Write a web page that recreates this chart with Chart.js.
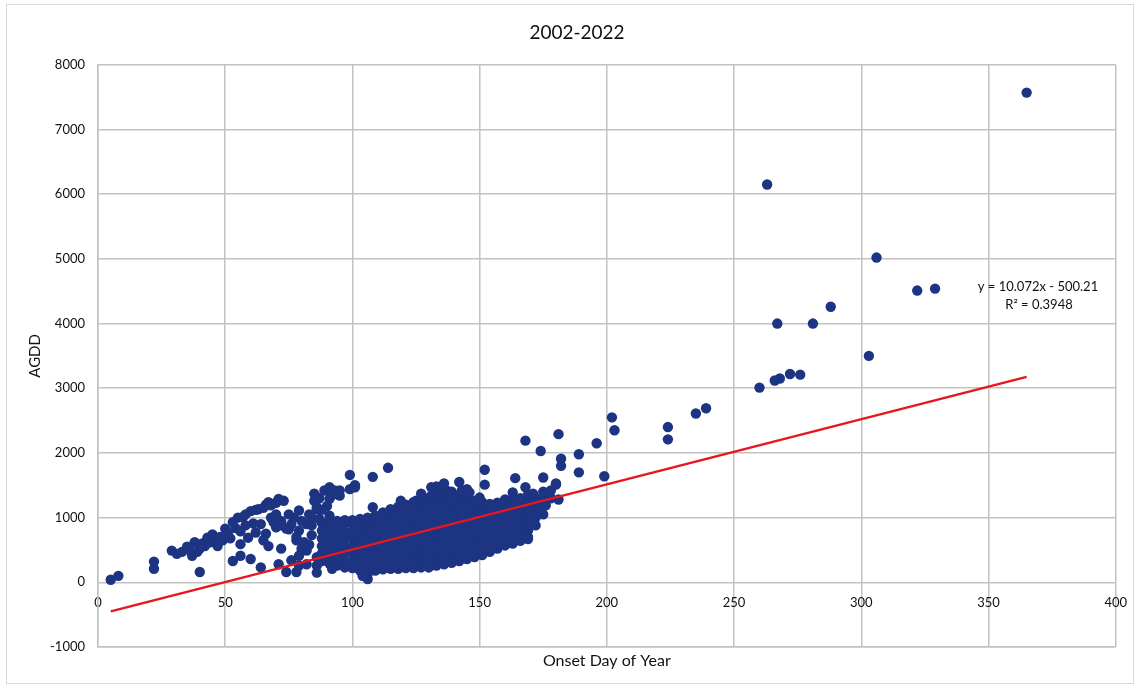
<!DOCTYPE html>
<html>
<head>
<meta charset="utf-8">
<title>2002-2022</title>
<script src="https://cdn.jsdelivr.net/npm/chart.js@4/dist/chart.umd.min.js"></script>
<style>
  html, body { margin: 0; padding: 0; background: #fff; }
  #wrap { width: 1140px; height: 687px; }
</style>
</head>
<body>
<div id="wrap"><canvas id="chart" width="1140" height="687"></canvas></div>
<script>
// Onset day of year vs. accumulated growing degree days (AGDD), 2002-2022

// Axis ticks
const xTicks = [0, 50, 100, 150, 200, 250, 300, 350, 400];
const yTicks = [-1000, 0, 1000, 2000, 3000, 4000, 5000, 6000, 7000, 8000];

// Linear fit reported on the chart
const fitSlope = 10.072;
const fitIntercept = -500.21;
const fitR2 = 0.3948;
const fitRange = [5, 365];

// Late-onset observations and the upper fringe of the main group
const lateOnset = [
  [365,7570],[263,6150],[306,5020],[322,4510],[329,4540],[288,4260],[267,4000],[281,4000],
  [303,3500],[272,3220],[276,3210],[266,3120],[268,3150],[260,3010],[235,2610],[239,2690],
  [224,2400],[224,2210],[202,2550],[203,2350],[196,2150],[199,1640],[181,2290],[168,2190],
  [174,2030],[189,1980],[182,1910],[182,1800],[189,1700],[164,1610],[175,1620],[168,1470],
  [180,1510],[181,1280],[176,1190],[169,670],[168,830],[169,800],[172,880],[152,1740],[152,1510],
  [180,1530],[171,1370],[163,1390],[150,1310]
];

// Early-onset observations (sparse band below day 100)
const earlyOnset = [
  [5,40],[8,100],[22,210],[22,320],[29,490],[31,440],[33,470],[35,550],[37,410],[38,620],
  [40,160],[40,520],[42,560],[43,690],[45,740],[46,620],[47,560],[49,650],[50,830],[52,680],
  [53,930],[54,840],[53,330],[55,1000],[56,790],[56,590],[56,410],[57,1010],[58,880],[60,1100],
  [60,360],[61,910],[62,770],[63,1130],[64,230],[64,900],[65,1150],[66,750],[67,1240],[68,1190],
  [69,930],[70,850],[71,1290],[72,950],[72,880],[72,520],[71,280],[74,830],[74,160],[75,820],
  [76,340],[77,1000],[78,650],[78,700],[78,160],[79,1110],[79,800],[79,410],[79,260],[81,620],
  [82,900],[82,490],[82,280],[84,730],[84,880],[85,1370],[85,1260],[86,1160],[86,1130],[86,390],
  [86,260],[86,150],[89,1420],[89,800],[91,1470],[91,1290],[91,1030],[92,210],[93,1420],[93,1370],
  [95,1420],[95,1340],[99,1440],[101,1470],[101,1500],[99,1660],[108,1630],[114,1770],[104,100],
  [108,1160],[119,1260],[125,1260],[127,1370],[131,1340],[131,1470],[133,1480],[136,1530],[137,1420],
  [139,1260],[142,1550],[143,1420],[145,1440],[146,1390],
  [36,500],[39,470],[41,600],[44,620],[48,700],[51,760],[58,1050],[59,690],[62,1120],[65,650],
  [66,1200],[67,560],[68,1000],[70,1050],[70,1230],[73,1260],[75,1050],[76,900],[80,950],[80,520],
  [83,1050],[83,580],[84,1000],[87,980],[88,1120],[90,1180],[87,1300],[92,1350]
];

// Main group: onset days 88-178
const mainGroup = [
  [88,330],[88,445],[88,560],[88,680],[88,800],[88,920],
  [91,290],[91,390],[91,500],[91,620],[91,730],[91,850],[91,950],
  [94,260],[94,370],[94,490],[94,600],[94,720],[94,830],[94,950],
  [97,230],[97,320],[97,440],[97,550],[97,670],[97,780],[97,900],[97,960],
  [100,220],[100,330],[100,450],[100,560],[100,680],[100,790],[100,910],[100,960],
  [103,180],[103,280],[103,400],[103,510],[103,630],[103,740],[103,860],[103,980],
  [106,50],[106,130],[106,240],[106,350],[106,470],[106,580],[106,700],[106,810],[106,930],[106,1000],
  [109,180],[109,290],[109,410],[109,520],[109,640],[109,750],[109,870],[109,980],[109,1030],
  [112,200],[112,310],[112,430],[112,540],[112,660],[112,770],[112,890],[112,1000],[112,1080],
  [115,210],[115,270],[115,380],[115,490],[115,610],[115,720],[115,840],[115,950],[115,1070],[115,1130],
  [118,210],[118,320],[118,440],[118,550],[118,670],[118,780],[118,900],[118,1010],[118,1130],[118,1170],
  [121,220],[121,280],[121,390],[121,510],[121,620],[121,740],[121,850],[121,970],[121,1080],[121,1200],
  [124,220],[124,330],[124,450],[124,560],[124,680],[124,790],[124,910],[124,1020],[124,1140],[124,1240],
  [127,230],[127,290],[127,400],[127,520],[127,630],[127,750],[127,860],[127,980],[127,1090],[127,1210],[127,1270],
  [130,230],[130,340],[130,460],[130,570],[130,690],[130,800],[130,920],[130,1030],[130,1150],[130,1260],[130,1300],
  [133,260],[133,310],[133,420],[133,540],[133,650],[133,770],[133,880],[133,1000],[133,1110],[133,1230],[133,1340],[133,1360],
  [136,280],[136,370],[136,480],[136,600],[136,710],[136,830],[136,940],[136,1060],[136,1170],[136,1290],[136,1400],[136,1420],
  [139,300],[139,420],[139,530],[139,650],[139,760],[139,880],[139,990],[139,1110],[139,1220],[139,1340],[139,1400],
  [142,330],[142,380],[142,490],[142,610],[142,720],[142,840],[142,950],[142,1070],[142,1180],[142,1300],[142,1350],
  [145,360],[145,470],[145,590],[145,700],[145,820],[145,930],[145,1050],[145,1160],[145,1270],[145,1300],
  [148,390],[148,450],[148,560],[148,680],[148,790],[148,910],[148,1020],[148,1140],[148,1250],[148,1260],
  [151,420],[151,530],[151,640],[151,760],[151,870],[151,990],[151,1100],[151,1220],[151,1240],
  [154,470],[154,580],[154,690],[154,810],[154,920],[154,1040],[154,1150],[154,1210],
  [157,520],[157,630],[157,740],[157,860],[157,970],[157,1090],[157,1200],[157,1230],
  [160,570],[160,670],[160,780],[160,900],[160,1010],[160,1130],[160,1240],[160,1280],
  [163,600],[163,720],[163,830],[163,950],[163,1060],[163,1180],[163,1300],
  [166,640],[166,760],[166,870],[166,990],[166,1100],[166,1220],[166,1300],
  [169,700],[169,920],[169,1040],[169,1160],[169,1280],[169,1350],
  [172,1000],[172,1130],[172,1260],[172,1300],
  [175,1050],[175,1180],[175,1310],[175,1400],
  [178,1300],[178,1420]
];

const toPoints = arr => arr.map(([x, y]) => ({ x, y }));
const observations = [...toPoints(mainGroup), ...toPoints(earlyOnset), ...toPoints(lateOnset)];
const fitLine = fitRange.map(x => ({ x, y: fitSlope * x + fitIntercept }));

const GRID = '#c2c2c2';
const TEXT = '#111111';
const FONT = 'Lato, "Open Sans", sans-serif';
const plainNumber = v => String(v);

const framePlugin = {
  id: 'frame',
  beforeDraw(chart) {
    const c = chart.ctx;
    c.save();
    c.fillStyle = '#ffffff';
    c.fillRect(0, 0, chart.width, chart.height);
    c.strokeStyle = '#d9d9d9';
    c.lineWidth = 1;
    c.strokeRect(6.5, 4.5, 1127, 679);
    c.restore();
  }
};

const equationPlugin = {
  id: 'equation',
  afterDatasetsDraw(chart) {
    const c = chart.ctx;
    c.save();
    c.fillStyle = TEXT;
    c.font = '13px ' + FONT;
    c.textAlign = 'center';
    c.textBaseline = 'middle';
    const sign = fitIntercept < 0 ? ' - ' : ' + ';
    c.fillText('y = ' + fitSlope.toFixed(3) + 'x' + sign + Math.abs(fitIntercept).toFixed(2), 1038, 287);
    c.fillText('R\u00B2 = ' + fitR2.toFixed(4), 1039, 305);
    c.restore();
  }
};

new Chart(document.getElementById('chart'), {
  data: {
    datasets: [
      {
        type: 'line',
        label: 'Linear fit',
        data: fitLine,
        borderColor: '#e8161e',
        borderWidth: 2.5,
        pointRadius: 0,
        fill: false,
        order: 0
      },
      {
        type: 'scatter',
        label: 'AGDD',
        data: observations,
        backgroundColor: '#1d3483',
        borderColor: '#1d3483',
        borderWidth: 0,
        pointRadius: 5.2,
        order: 1
      }
    ]
  },
  options: {
    responsive: false,
    animation: false,
    layout: { padding: { left: 14, right: 0, top: 0, bottom: 0 } },
    plugins: {
      legend: { display: false },
      tooltip: { enabled: false },
      title: {
        display: true,
        text: '2002-2022',
        color: TEXT,
        font: { family: FONT, size: 19, weight: 'normal' },
        padding: { top: 21, bottom: 21 }
      }
    },
    scales: {
      x: {
        type: 'linear',
        position: 'bottom',
        min: xTicks[0],
        max: xTicks[xTicks.length - 1],
        afterBuildTicks: s => { s.ticks = xTicks.map(v => ({ value: v })); },
        ticks: { display: false },
        grid: { color: GRID, lineWidth: 1.5, drawTicks: false },
        border: { color: GRID, width: 1.5 },
        title: {
          display: true,
          text: 'Onset Day of Year',
          color: TEXT,
          font: { family: FONT, size: 16 },
          padding: { top: 0, bottom: 17 }
        },
        afterFit: s => { s.height = 40; }
      },
      xLabels: {
        type: 'linear',
        axis: 'x',
        position: { y: 0 },
        min: xTicks[0],
        max: xTicks[xTicks.length - 1],
        afterBuildTicks: s => { s.ticks = xTicks.map(v => ({ value: v })); },
        ticks: { color: TEXT, font: { family: FONT, size: 13 }, padding: 13, callback: plainNumber },
        grid: { display: false, drawTicks: false },
        border: { display: false }
      },
      y: {
        type: 'linear',
        position: 'left',
        min: yTicks[0],
        max: yTicks[yTicks.length - 1],
        afterBuildTicks: s => { s.ticks = yTicks.map(v => ({ value: v })); },
        ticks: { color: TEXT, font: { family: FONT, size: 13 }, padding: 13, callback: plainNumber },
        grid: { color: GRID, lineWidth: 1.5, drawTicks: false },
        border: { color: GRID, width: 1.5 },
        title: {
          display: true,
          text: 'AGDD',
          color: TEXT,
          font: { family: FONT, size: 15 },
          padding: { top: 12, bottom: 0 }
        },
        afterFit: s => { s.width = 84; }
      },
      yRight: {
        type: 'linear',
        axis: 'y',
        position: 'right',
        ticks: { display: false },
        grid: { display: false, drawTicks: false },
        border: { display: false },
        afterFit: s => { s.width = 22; }
      }
    }
  },
  plugins: [framePlugin, equationPlugin]
});
</script>
</body>
</html>
